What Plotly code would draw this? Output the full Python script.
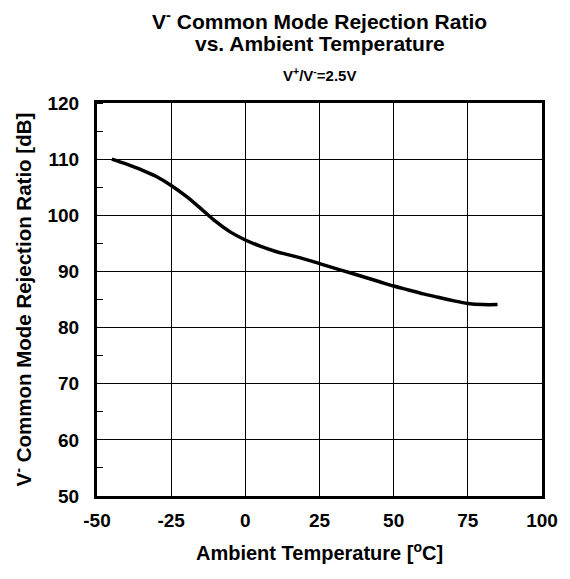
import plotly.graph_objects as go

temp = [-45, -40, -35, -30, -25, -20, -15, -10, -5, 0, 5, 10, 15, 20, 25, 30, 35, 40, 45, 50, 55, 60, 65, 70, 75, 80, 85]
cmrr = [110.0, 109.1, 108.1, 106.9, 105.3, 103.4, 101.2, 98.9, 97.0, 95.6, 94.5, 93.6, 92.9, 92.2, 91.4, 90.6, 89.8, 89.0, 88.2, 87.4, 86.7, 86.0, 85.4, 84.8, 84.3, 84.1, 84.1]

x_ticks = [-50, -25, 0, 25, 50, 75, 100]
y_ticks = [50, 60, 70, 80, 90, 100, 110, 120]

FONT = "Liberation Sans, Arial, sans-serif"

W, H = 562, 571          # page body adds an 8px offset
L, R, T, B = 89, 28, 95, 83
pw, ph = W - L - R, H - T - B

fig = go.Figure()
fig.add_trace(go.Scatter(x=temp, y=cmrr, mode="lines",
                         line=dict(color="black", width=3.5, shape="spline", smoothing=1.0),
                         showlegend=False, hoverinfo="x+y"))

axis_common = dict(showgrid=True, gridcolor="black", gridwidth=1, zeroline=False,
                   showline=True, linecolor="black", linewidth=3, mirror=True,
                   ticks="", tickfont=dict(size=19, family=FONT, weight="bold"))

def py(screen_y):
    # convert a screen y (page pixels) to paper y
    return 1 + (T + 8 - screen_y) / ph

fig.update_layout(
    width=W, height=H,
    margin=dict(l=L, r=R, t=T, b=B),
    paper_bgcolor="white", plot_bgcolor="white",
    font=dict(family=FONT, color="black"),
    xaxis=dict(range=[-50, 100], tickvals=x_ticks, ticktext=[str(v) for v in x_ticks],
               ticklabelstandoff=5, **axis_common),
    yaxis=dict(range=[50, 120], tickvals=y_ticks, ticktext=[str(v) for v in y_ticks],
               ticklabelstandoff=11,
               minor=dict(dtick=5, ticks="inside", ticklen=6, tickcolor="black", tickwidth=1, showgrid=False),
               **axis_common),
    annotations=[
        dict(text="<b>V<sup>-</sup> Common Mode Rejection Ratio</b>",
             x=0.5, xref="paper", y=py(20), yref="paper", yanchor="middle",
             showarrow=False, font=dict(size=21, family=FONT)),
        dict(text="<b>vs. Ambient Temperature</b>",
             x=0.5, xref="paper", y=py(44), yref="paper", yanchor="middle",
             showarrow=False, font=dict(size=21, family=FONT)),
        dict(text="<b>V<sup>+</sup>/V<sup>-</sup>=2.5V</b>",
             x=0.5, xref="paper", y=py(74), yref="paper", yanchor="middle",
             showarrow=False, font=dict(size=15, family=FONT)),
        dict(text="<b>Ambient Temperature [<sup>o</sup>C]</b>",
             x=0.5, xref="paper", y=py(551), yref="paper", yanchor="middle",
             showarrow=False, font=dict(size=20, family=FONT)),
        dict(text="<b>V<sup>-</sup> Common Mode Rejection Ratio [dB]</b>",
             x=-(97 - 22) / pw, xref="paper", y=0.5, yref="paper", xanchor="center", yanchor="middle",
             textangle=-90, showarrow=False, font=dict(size=20.5, family=FONT)),
    ],
)

fig.write_html("out.html")
